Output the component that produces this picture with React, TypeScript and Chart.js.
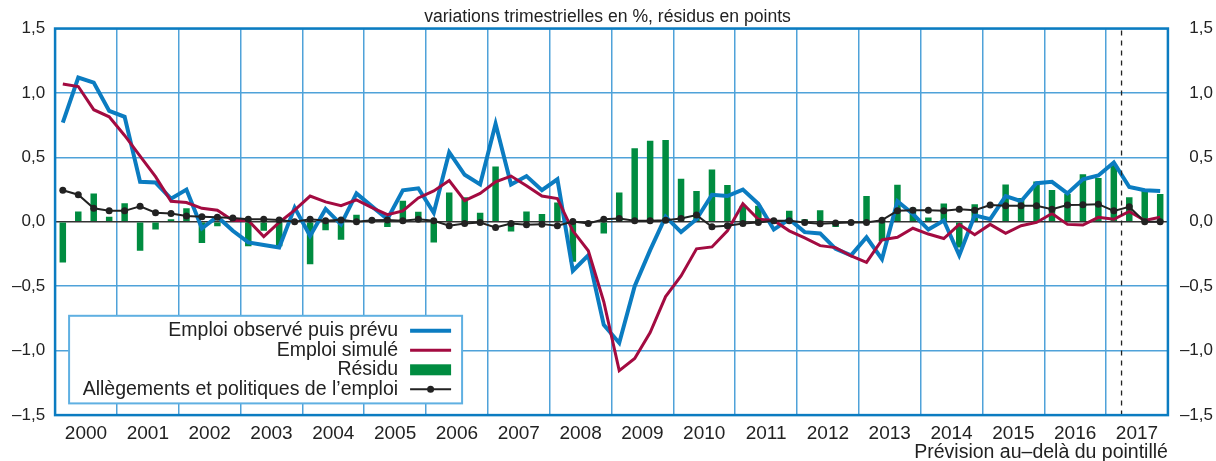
import React, { useEffect, useRef } from 'react';
import { Chart, registerables } from 'chart.js';

Chart.register(...registerables);

// ---- data ----
const years = ['2000', '2001', '2002', '2003', '2004', '2005', '2006', '2007', '2008', '2009', '2010', '2011', '2012', '2013', '2014', '2015', '2016', '2017'];
const quarterNames = ['T1', 'T2', 'T3', 'T4'];
const quarters = years.flatMap((y) => quarterNames.map((q) => `${y} ${q}`));

const emploiObserve = [
  0.77, 1.12, 1.08, 0.86, 0.815, 0.31, 0.305, 0.18, 0.25, -0.05, 0.04, -0.07,
  -0.16, -0.18, -0.2, 0.11, -0.11, 0.1, -0.02, 0.22, 0.12, 0.02, 0.245, 0.26,
  0.07, 0.54, 0.365, 0.29, 0.76, 0.29, 0.355, 0.245, 0.33, -0.38, -0.26, -0.8,
  -0.94, -0.5, -0.22, 0.04, -0.08, 0.02, 0.21, 0.2, 0.25, 0.14, -0.06, 0.02,
  -0.08, -0.09, -0.21, -0.26, -0.12, -0.29, 0.16, 0.06, -0.06, 0.01, -0.26, 0.05,
  0.02, 0.2, 0.16, 0.3, 0.31, 0.22, 0.33, 0.36, 0.46, 0.27, 0.245, 0.24,
];

const emploiSimule = [
  1.07, 1.05, 0.87, 0.815, 0.67, 0.51, 0.35, 0.16, 0.15, 0.105, 0.09, 0.01,
  0.01, -0.115, -0.005, 0.09, 0.2, 0.155, 0.125, 0.17, 0.11, 0.055, 0.085, 0.185,
  0.24, 0.32, 0.165, 0.22, 0.31, 0.355, 0.28, 0.2, 0.18, -0.07, -0.225, -0.62,
  -1.155, -1.06, -0.86, -0.58, -0.42, -0.21, -0.195, -0.07, 0.14, 0.02, 0.01, -0.07,
  -0.125, -0.185, -0.2, -0.265, -0.315, -0.14, -0.12, -0.05, -0.095, -0.13, -0.02, -0.1,
  -0.02, -0.09, -0.03, -0.005, 0.065, -0.02, -0.025, 0.035, 0.02, 0.08, 0.01, 0.035,
];

const residu = [
  -0.315, 0.08, 0.22, 0.04, 0.145, -0.225, -0.06, 0.02, 0.105, -0.165, -0.035, 0.0,
  -0.19, -0.07, -0.19, 0.0, -0.33, -0.065, -0.14, 0.055, 0.0, -0.04, 0.163, 0.078,
  -0.16, 0.228, 0.19, 0.07, 0.43, -0.075, 0.08, 0.06, 0.15, -0.31, 0.0, -0.09,
  0.228, 0.57, 0.63, 0.635, 0.335, 0.24, 0.405, 0.285, 0.124, 0.124, 0.0, 0.085,
  0.02, 0.09, -0.04, 0.0, 0.2, -0.15, 0.287, 0.11, 0.034, 0.142, -0.2, 0.137,
  0.0, 0.29, 0.184, 0.313, 0.246, 0.215, 0.37, 0.34, 0.448, 0.19, 0.246, 0.215,
];

const allegements = [
  0.245, 0.21, 0.105, 0.085, 0.085, 0.12, 0.07, 0.065, 0.045, 0.04, 0.035, 0.03,
  0.02, 0.02, 0.015, 0.0, 0.02, 0.008, 0.015, 0.0, 0.012, 0.015, 0.008, 0.02,
  0.008, -0.03, -0.013, -0.005, -0.044, -0.013, -0.023, -0.018, -0.03, 0.003, -0.013, 0.02,
  0.026, 0.008, 0.008, 0.012, 0.026, 0.052, -0.039, -0.03, -0.013, -0.005, 0.008, 0.008,
  -0.005, -0.015, -0.01, -0.005, -0.005, 0.013, 0.085, 0.09, 0.09, 0.085, 0.098, 0.09,
  0.13, 0.124, 0.124, 0.124, 0.098, 0.13, 0.132, 0.137, 0.085, 0.116, 0.0, 0.0,
];

const yTicks = [-1.5, -1.0, -0.5, 0, 0.5, 1.0, 1.5];
const lastObservedIndex = 68; // 2017 T1, forecast beyond the dotted line

const subtitle = 'variations trimestrielles en %, résidus en points';
const footnote = 'Prévision au–delà du pointillé';

// ---- styles ----
const BLUE = '#0b7cc1';
const RED = '#a30b41';
const GREEN = '#008c40';
const BLACK = '#222222';
const GRID = '#4fa2d9';
const FRAME = '#0b7cc1';
const TEXT = '#222222';
const FONT = '"Liberation Sans", Arial, Helvetica, sans-serif';

const fmt = (v: number) => (v < 0 ? '–' : '') + Math.abs(v).toFixed(1).replace('.', ',');

const framePlugin = {
  id: 'frame',
  beforeDatasetsDraw(chart: any) {
    const { ctx, chartArea: a } = chart;
    ctx.save();
    ctx.strokeStyle = FRAME;
    ctx.lineWidth = 2.5;
    ctx.strokeRect(a.left, a.top, a.right - a.left, a.bottom - a.top);
    ctx.restore();
  },
};

const forecastLinePlugin = {
  id: 'forecastLine',
  afterDatasetsDraw(chart: any) {
    const { ctx, chartArea: a } = chart;
    const xs = chart.scales.x;
    const px = (xs.getPixelForValue(lastObservedIndex) + xs.getPixelForValue(lastObservedIndex + 1)) / 2;
    ctx.save();
    ctx.strokeStyle = BLACK;
    ctx.lineWidth = 1.3;
    ctx.setLineDash([5, 5]);
    ctx.beginPath();
    ctx.moveTo(px, a.top + 2);
    ctx.lineTo(px, a.bottom - 1);
    ctx.stroke();
    ctx.restore();
  },
};

const boxLegendPlugin = {
  id: 'boxLegend',
  afterDraw(chart: any) {
    const { ctx, chartArea: a } = chart;
    const bx = a.left + 14;
    const by = a.bottom - 99.3;
    const bw = 393;
    const bh = 87.6;
    ctx.save();
    ctx.fillStyle = '#ffffff';
    ctx.fillRect(bx, by, bw, bh);
    ctx.strokeStyle = '#5fb0e2';
    ctx.lineWidth = 2;
    ctx.strokeRect(bx, by, bw, bh);
    ctx.font = `19.5px ${FONT}`;
    ctx.textAlign = 'right';
    ctx.textBaseline = 'middle';
    chart.data.datasets.forEach((ds: any, k: number) => {
      const cy = by + 15 + k * 19.5;
      ctx.fillStyle = TEXT;
      ctx.fillText(ds.label, bx + 329, cy);
      const x0 = bx + 341;
      const x1 = bx + 382;
      if (ds.type === 'bar') {
        ctx.fillStyle = ds.backgroundColor;
        ctx.fillRect(x0, cy - 5.5, x1 - x0, 11);
      } else {
        ctx.strokeStyle = ds.borderColor;
        ctx.lineWidth = ds.borderWidth;
        ctx.beginPath();
        ctx.moveTo(x0, cy);
        ctx.lineTo(x1, cy);
        ctx.stroke();
        if (ds.pointRadius > 0) {
          ctx.fillStyle = ds.pointBackgroundColor;
          ctx.beginPath();
          ctx.arc((x0 + x1) / 2, cy, ds.pointRadius, 0, Math.PI * 2);
          ctx.fill();
        }
      }
    });
    ctx.restore();
  },
};

export default function App() {
  const ref = useRef<HTMLCanvasElement | null>(null);

  useEffect(() => {
    document.body.style.margin = '0';
    const canvas = ref.current;
    if (!canvas) return;
    Chart.defaults.font.family = FONT;

    const chart = new Chart(canvas, {
      data: {
        labels: quarters,
        datasets: [
          {
            type: 'line',
            label: 'Emploi observé puis prévu',
            data: emploiObserve,
            borderColor: BLUE,
            borderWidth: 4,
            pointRadius: 0,
            tension: 0,
            borderJoinStyle: 'miter',
            order: 3,
          },
          {
            type: 'line',
            label: 'Emploi simulé',
            data: emploiSimule,
            borderColor: RED,
            borderWidth: 3,
            pointRadius: 0,
            tension: 0,
            borderJoinStyle: 'miter',
            order: 2,
          },
          {
            type: 'bar',
            label: 'Résidu',
            data: residu,
            backgroundColor: GREEN,
            barPercentage: 0.42,
            categoryPercentage: 1,
            order: 4,
          },
          {
            type: 'line',
            label: 'Allègements et politiques de l’emploi',
            data: allegements,
            borderColor: BLACK,
            borderWidth: 2,
            pointRadius: 3.5,
            pointBackgroundColor: BLACK,
            pointBorderWidth: 0,
            tension: 0,
            order: 1,
          },
        ] as any,
      },
      options: {
        animation: false,
        responsive: false,
        devicePixelRatio: 1,
        events: [],
        layout: { padding: { left: 2, right: 3, top: 0, bottom: 0 } },
        plugins: {
          legend: { display: false },
          tooltip: { enabled: false },
          title: {
            display: true,
            text: subtitle,
            color: TEXT,
            font: { size: 17.6, weight: 'normal', family: FONT },
            padding: { top: 6.5, bottom: 0.9 },
          },
        },
        scales: {
          x: {
            type: 'category',
            position: 'bottom',
            offset: true,
            weight: 0,
            grid: {
              offset: true,
              drawTicks: false,
              lineWidth: 1.5,
              color: (c: any) => (c.index % 4 === 0 ? GRID : 'rgba(0,0,0,0)'),
            },
            border: { display: false },
            ticks: { display: false, autoSkip: false },
          },
          x2: {
            type: 'category',
            labels: years,
            position: 'bottom',
            offset: true,
            weight: 1,
            grid: { display: false, drawTicks: false },
            border: { display: false },
            ticks: {
              autoSkip: false,
              maxRotation: 0,
              padding: 7.6,
              color: TEXT,
              font: { size: 19, family: FONT, lineHeight: 1.2 },
            },
            title: {
              display: true,
              text: footnote,
              align: 'end',
              color: TEXT,
              font: { size: 19.5, family: FONT, lineHeight: 1.2 },
              padding: { top: -12.5, bottom: -3 },
            },
          },
          y: {
            position: 'left',
            min: -1.5,
            max: 1.5,
            afterBuildTicks: (s: any) => { s.ticks = yTicks.map((v) => ({ value: v })); },
            grid: {
              drawTicks: false,
              lineWidth: 1.5,
              color: (c: any) => (c.tick && c.tick.value === 0 ? '#333333' : GRID),
            },
            border: { display: false },
            ticks: {
              callback: (v: any) => fmt(Number(v)),
              padding: 10,
              color: TEXT,
              font: { size: 17, family: FONT },
            },
          },
          y1: {
            position: 'right',
            min: -1.5,
            max: 1.5,
            afterBuildTicks: (s: any) => { s.ticks = yTicks.map((v) => ({ value: v })); },
            grid: { display: false, drawTicks: false },
            border: { display: false },
            ticks: {
              callback: (v: any) => fmt(Number(v)),
              padding: 6,
              crossAlign: 'far',
              color: TEXT,
              font: { size: 17, family: FONT },
            },
          },
        },
      } as any,
      plugins: [framePlugin, forecastLinePlugin, boxLegendPlugin],
    });

    return () => chart.destroy();
  }, []);

  return (
    <div style={{ width: 1216, height: 461 }}>
      <canvas ref={ref} width={1216} height={461} style={{ display: 'block' }} />
    </div>
  );
}
